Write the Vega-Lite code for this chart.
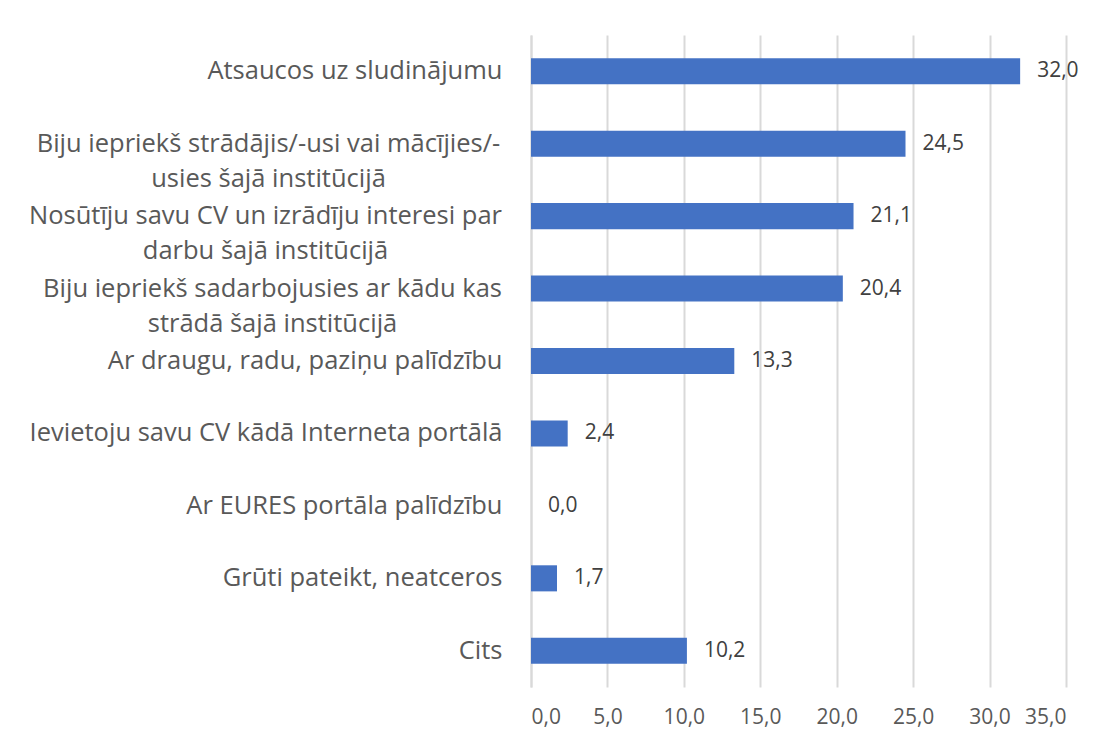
{
  "$schema": "https://vega.github.io/schema/vega-lite/v6.json",
  "width": 535,
  "height": 652,
  "autosize": {"type": "none"},
  "padding": {"left": 531, "top": 35, "right": 38, "bottom": 55},
  "background": "white",
  "config": {
    "locale": {"number": {"decimal": ",", "thousands": " ", "grouping": [3], "currency": ["", " €"]}},
    "view": {"stroke": null},
    "font": "Open Sans"
  },
  "data": {
    "values": [
      {"label": "Atsaucos uz sludinājumu", "value": 32.0},
      {"label": "Biju iepriekš strādājis/-usi vai mācījies/-\nusies šajā institūcijā", "value": 24.5},
      {"label": "Nosūtīju savu CV un izrādīju interesi par\ndarbu šajā institūcijā", "value": 21.1},
      {"label": "Biju iepriekš sadarbojusies ar kādu kas\nstrādā šajā institūcijā", "value": 20.4},
      {"label": "Ar draugu, radu, paziņu palīdzību", "value": 13.3},
      {"label": "Ievietoju savu CV kādā Interneta portālā", "value": 2.4},
      {"label": "Ar EURES portāla palīdzību", "value": 0.0},
      {"label": "Grūti pateikt, neatceros", "value": 1.7},
      {"label": "Cits", "value": 10.2}
    ]
  },
  "encoding": {
    "y": {
      "field": "label",
      "type": "nominal",
      "sort": null,
      "scale": {"paddingInner": 0.64, "paddingOuter": 0.32},
      "axis": {
        "title": null,
        "ticks": false,
        "domain": true,
        "domainColor": "#d9d9d9",
        "domainWidth": 2,
        "labelExpr": "split(datum.value, '\\n')",
        "labelFont": "Open Sans",
        "labelFontSize": 25.5,
        "labelColor": "#595959",
        "labelLineHeight": 35,
        "labelLimit": 700,
        "labelAlign": {"condition": {"test": "indexof(datum.value, '\\n') >= 0", "value": "center"}, "value": "right"},
        "labelPadding": {
          "condition": [
            {"test": "indexof(datum.value, 'strādājis') >= 0", "value": 263},
            {"test": "indexof(datum.value, 'Nosūtīju') >= 0", "value": 266},
            {"test": "indexof(datum.value, 'sadarbojusies') >= 0", "value": 259}
          ],
          "value": 29
        }
      }
    },
    "x": {
      "field": "value",
      "type": "quantitative",
      "scale": {"domain": [0, 35], "nice": false},
      "axis": {
        "title": null,
        "values": [0, 5, 10, 15, 20, 25, 30, 35],
        "format": ".1f",
        "ticks": false,
        "domain": false,
        "grid": true,
        "gridColor": "#d9d9d9",
        "gridWidth": 2,
        "labelFont": "Open Sans",
        "labelFontSize": 21,
        "labelColor": "#595959",
        "labelPadding": 19
      }
    }
  },
  "layer": [
    {"mark": {"type": "bar", "color": "#4472C4"}},
    {
      "mark": {"type": "text", "align": "left", "baseline": "middle", "dx": 17, "fontSize": 21, "font": "Open Sans", "color": "#404040"},
      "encoding": {"text": {"field": "value", "type": "quantitative", "format": ".1f"}}
    }
  ]
}
